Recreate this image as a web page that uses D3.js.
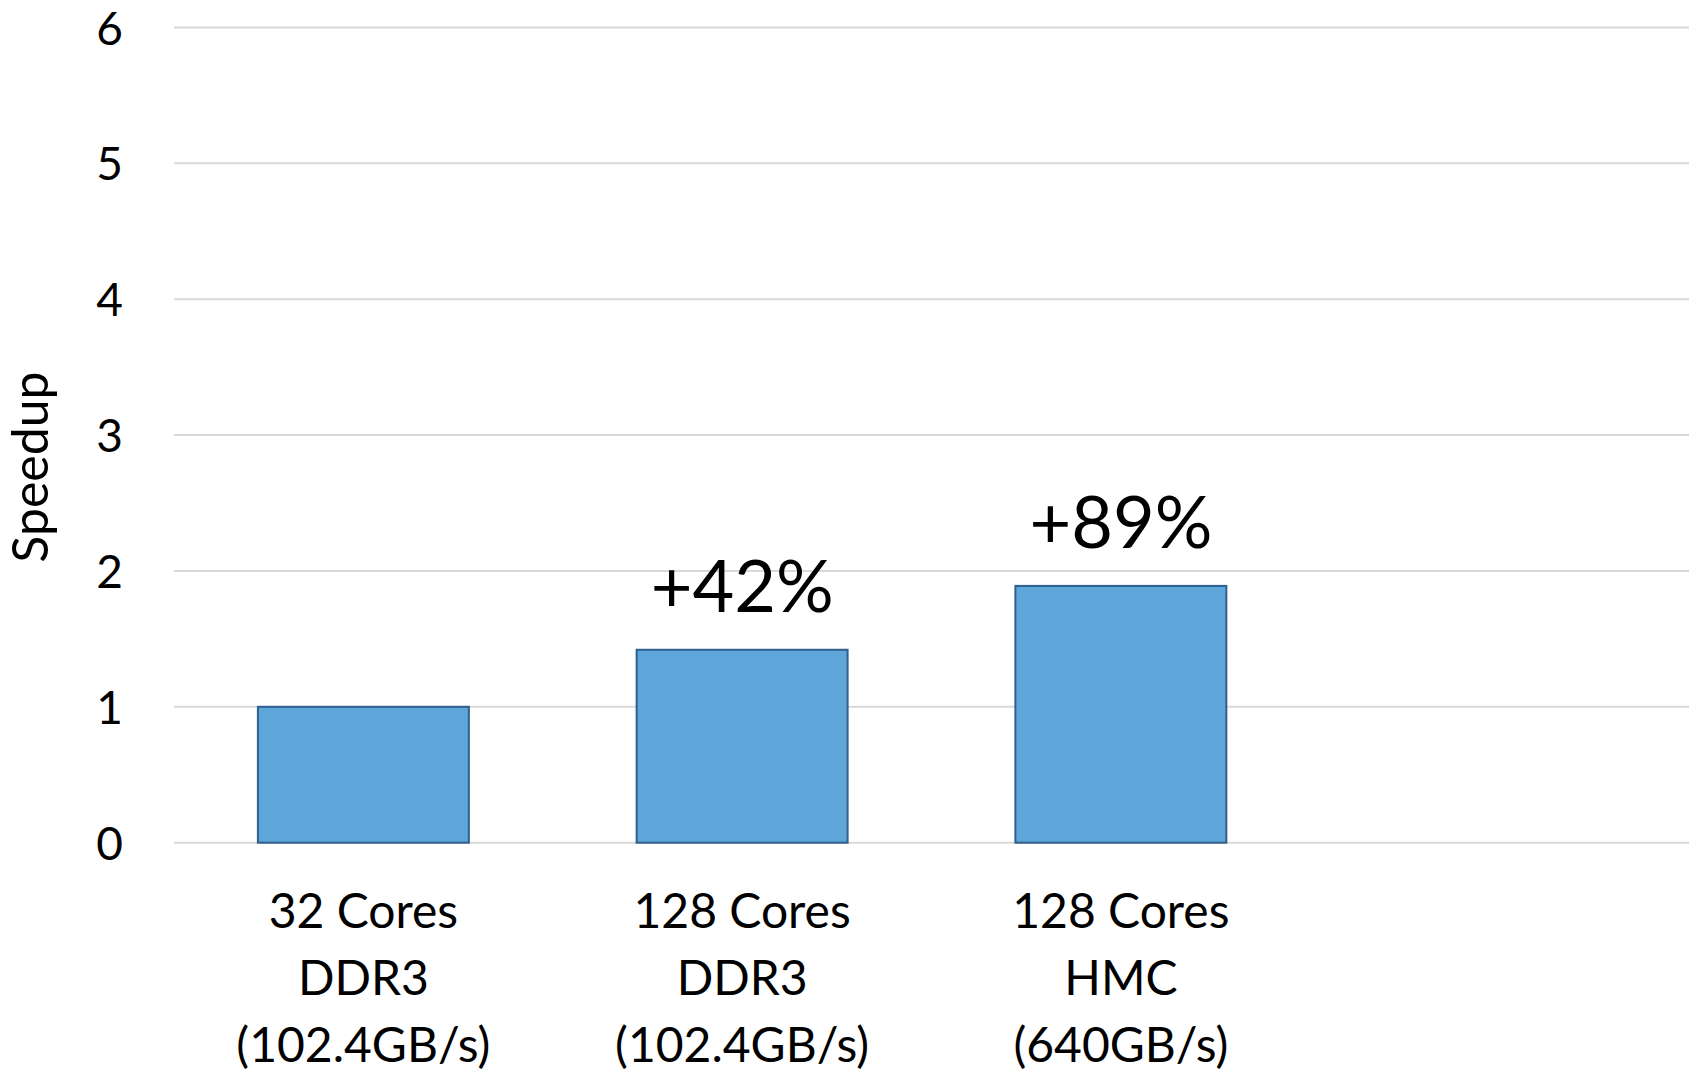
<!DOCTYPE html>
<html>
<head>
<meta charset="utf-8">
<script src="https://cdn.jsdelivr.net/npm/d3@7"></script>
<style>
  html, body { margin: 0; padding: 0; background: #fff; }
  svg { display: block; font-family: Lato, "Open Sans", sans-serif; }
</style>
</head>
<body>
<svg id="chart" width="1698" height="1078"></svg>
<script>
// Configurations compared, one category per bar (last slot left empty)
const categories = ["c1", "c2", "c3", "c4"];
const categoryLines = [
  ["32 Cores", "DDR3", "(102.4GB/s)"],
  ["128 Cores", "DDR3", "(102.4GB/s)"],
  ["128 Cores", "HMC", "(640GB/s)"],
  []
];
// Speedup relative to the 32-core DDR3 baseline
const speedups = [1.00, 1.42, 1.89, null];
const gainLabels = ["", "+42%", "+89%", ""];
const yTicks = [0, 1, 2, 3, 4, 5, 6];

const svg = d3.select("#chart");
const plot = { left: 174, right: 1689, top: 27.5, bottom: 842.7 };

const x = d3.scaleBand()
  .domain(categories)
  .range([plot.left, plot.right])
  .paddingInner(0.443)
  .paddingOuter(0.2215);

const y = d3.scaleLinear()
  .domain([0, 6])
  .range([plot.bottom, plot.top]);

// Horizontal gridlines
svg.append("g")
  .selectAll("line")
  .data(yTicks)
  .join("line")
  .attr("x1", plot.left)
  .attr("x2", plot.right)
  .attr("y1", d => y(d))
  .attr("y2", d => y(d))
  .attr("stroke", "#d9d9d9")
  .attr("stroke-width", 2);

// Y axis tick labels
const yAxis = d3.axisLeft(y).tickValues(yTicks).tickFormat(d3.format("d")).tickSize(0).tickPadding(0);
const yAxisG = svg.append("g")
  .attr("transform", `translate(123,0)`)
  .call(yAxis);
yAxisG.select(".domain").remove();
yAxisG.selectAll("text")
  .attr("font-family", "Lato, 'Open Sans', sans-serif")
  .attr("font-size", 46)
  .attr("fill", "#000")
  .attr("dy", "0.36em");

// Axis title
svg.append("text")
  .attr("transform", "translate(48,467) rotate(-90)")
  .attr("text-anchor", "middle")
  .attr("font-size", 50)
  .attr("fill", "#000")
  .text("Speedup");

const rows = categories.map((c, i) => ({ c, v: speedups[i], label: gainLabels[i], lines: categoryLines[i] }));

// Bars
svg.append("g")
  .selectAll("rect")
  .data(rows.filter(d => d.v != null))
  .join("rect")
  .attr("x", d => x(d.c))
  .attr("y", d => y(d.v))
  .attr("width", x.bandwidth())
  .attr("height", d => y(0) - y(d.v))
  .attr("fill", "#5ea5da")
  .attr("stroke", "#2f5f8c")
  .attr("stroke-width", 2);

// Gain annotations above bars
svg.append("g")
  .selectAll("text")
  .data(rows.filter(d => d.v != null && d.label))
  .join("text")
  .attr("x", d => x(d.c) + x.bandwidth() / 2)
  .attr("y", d => y(d.v) - 38)
  .attr("text-anchor", "middle")
  .attr("font-size", 72)
  .attr("fill", "#000")
  .text(d => d.label);

// Category labels, three lines each
const catG = svg.append("g")
  .selectAll("text")
  .data(rows)
  .join("text")
  .attr("text-anchor", "middle")
  .attr("font-size", 48)
  .attr("fill", "#000");
catG.selectAll("tspan")
  .data(d => d.lines.map(t => ({ t, cx: x(d.c) + x.bandwidth() / 2 })))
  .join("tspan")
  .attr("x", d => d.cx)
  .attr("y", (d, i) => 928 + i * 67)
  .text(d => d.t);
</script>
</body>
</html>
